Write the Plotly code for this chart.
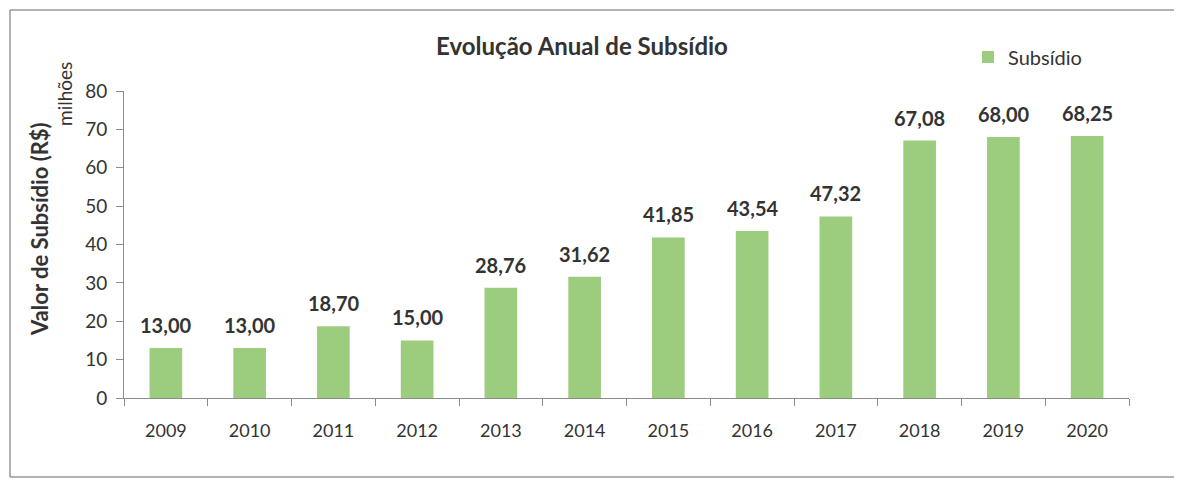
import plotly.graph_objects as go

years = ["2009", "2010", "2011", "2012", "2013", "2014", "2015", "2016", "2017", "2018", "2019", "2020"]
subsidio = [13.00, 13.00, 18.70, 15.00, 28.76, 31.62, 41.85, 43.54, 47.32, 67.08, 68.00, 68.25]
y_ticks = [0, 10, 20, 30, 40, 50, 60, 70, 80]

# page body has an 8px margin; work in screen coordinates and convert
OFF = 8
W, H = 1182 - OFF, 484 - OFF
X_LEFT, X_RIGHT, Y_TOP, Y_BOT = 124, 1129, 91, 398  # screen px of plot area
L = X_LEFT - OFF
R = W - (X_RIGHT - OFF)
T = Y_TOP - OFF
B = H - (Y_BOT - OFF)
pw, ph = W - L - R, H - T - B

def px(x):
    return (x - OFF - L) / pw

def py(y):
    return (Y_BOT - y) / ph

FONT = "Lato, 'Open Sans', sans-serif"
TXT = "#333333"
AX = "#8c8c8c"

fig = go.Figure()
fig.add_trace(go.Bar(
    x=years, y=subsidio, name="Subsídio",
    marker=dict(color="#9ccc7e", line=dict(width=0)),
))

# category index positions on the category axis
value_labels = [
    dict(x=i, y=v, xref="x", yref="y", text="<b>" + f"{v:.2f}".replace(".", ",") + "</b>",
         showarrow=False, xanchor="center", yanchor="bottom", yshift=9,
         font=dict(size=20, color=TXT, family=FONT))
    for i, v in enumerate(subsidio)
]

fig.update_layout(
    width=W, height=H,
    margin=dict(l=L, r=R, t=T, b=B, autoexpand=False),
    paper_bgcolor="white", plot_bgcolor="white",
    bargap=0.61,
    font=dict(family=FONT, color=TXT),
    title=dict(text="<b>Evolução Anual de Subsídio</b>", x=(582 - OFF) / W, xanchor="center",
               y=1 - (47 - OFF) / H, yanchor="middle", font=dict(size=24, color=TXT)),
    showlegend=True,
    legend=dict(x=px(968), y=py(57), xanchor="left", yanchor="middle",
                font=dict(size=20, color=TXT), bgcolor="rgba(0,0,0,0)",
                itemwidth=30),
    xaxis=dict(type="category", categoryorder="array", categoryarray=years,
               range=[-0.5, len(years) - 0.5],
               showline=True, linecolor=AX, linewidth=1,
               ticks="outside", tickson="boundaries", ticklen=7, tickcolor=AX,
               ticklabelstandoff=16,
               tickfont=dict(size=18, color=TXT), showgrid=False, zeroline=False),
    yaxis=dict(range=[0, 80], tickvals=y_ticks, showline=True, linecolor=AX,
               linewidth=1, ticks="outside", ticklen=7, tickcolor=AX,
               ticklabelstandoff=5,
               tickfont=dict(size=19, color=TXT), showgrid=False, zeroline=False),
    shapes=[dict(type="rect", xref="paper", yref="paper",
                 x0=px(10), x1=px(1177), y0=py(477), y1=py(10),
                 line=dict(color="#666666", width=1))],
    annotations=value_labels + [
        dict(text="<b>Valor de Subsídio (R$)</b>", xref="paper", yref="paper",
             x=px(39), y=py(229), textangle=-90, showarrow=False,
             xanchor="center", yanchor="middle", font=dict(size=22, color=TXT)),
        dict(text="milhões", xref="paper", yref="paper", x=px(64), y=py(94),
             textangle=-90, showarrow=False, xanchor="center", yanchor="middle",
             font=dict(size=19, color=TXT)),
    ],
)

fig.write_html("out.html")
